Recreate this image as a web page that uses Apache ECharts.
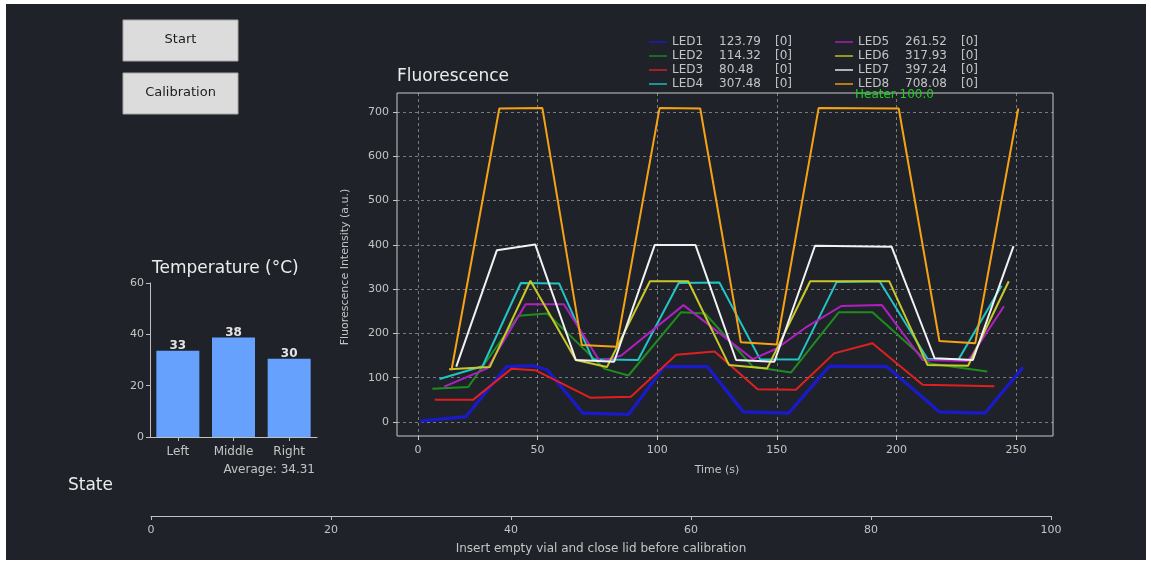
<!DOCTYPE html>
<html><head><meta charset="utf-8">
<script src="https://cdn.jsdelivr.net/npm/echarts@6/dist/echarts.min.js"></script>
<style>html,body{margin:0;padding:0;background:#fff}#c{width:1151px;height:565px}</style>
</head><body><div id="c"></div>
<script>
// ---------- data ----------
const ledNames = ['LED1','LED2','LED3','LED4','LED5','LED6','LED7','LED8'];
const ledColors = ['#1a1acc','#1e8c1e','#e02020','#22c4c4','#b020c0','#c8c828','#f2f2f2','#f5a214'];
const led1T = [1,20,37,48,54,69,88,103,121,136,155,172,196,218,237,253];
const led1V = [2,12,125,127,118,20,17,125,125,23,20,126,125,23,20,123.79];
const led2T = [6,21,42,54,78,88,110,120,140,156,176,190,214,238];
const led2V = [75,79,240,245,120,105,248,245,125,112,248,248,132,114.32];
const led3T = [7,23,39,49,72,89,108,124,142,158,174,190,211,241];
const led3V = [50,50,120,117,55,57,152,159,74,73,155,178,84,80.48];
const led4T = [9,27,43,59,73,92,109,126,143,159,175,193,213,226,244];
const led4V = [97,126,314,313,142,140,314,315,142,141,316,318,143,141,307.48];
const led5T = [11,29,45,61,76,85,111,140,150,162,177,194,211,230,245];
const led5V = [80,121,266,266,137,150,264,142,166,213,262,264,140,138,261.52];
const led6T = [13,30,47,66,79,97,113,130,146,164,197,213,230,247];
const led6V = [119,124,319,140,124,318,318,129,121,318,318,129,127,317.93];
const led7T = [16,33,49,66,82,99,116,133,149,166,198,216,232,249];
const led7V = [125,388,401,140,136,400,400,140,136,398,396,144,140,397.24];
const led8T = [14,34,52,68.5,83,101,118,135,150,167.5,201,218,233,251];
const led8V = [117,708,709,174,170,709,708,180,175,709,708,183,178,708.08];
const heaterValue = 100.0;
const tempCategories = ['Left','Middle','Right'];
const tempValues = [33.6,38.8,30.53];
const progressValue = 0;
const timeTicks = [0,250,50];      // min, max, step
const fluoTicks = [0,700,100];
const tempTicks = [0,60,20];
const progressTicks = [0,100,20];

// ---------- build ----------
const allT = [led1T,led2T,led3T,led4T,led5T,led6T,led7T,led8T];
const allV = [led1V,led2V,led3V,led4V,led5V,led6V,led7V,led8V];
const lastVal = {};
ledNames.forEach((n,i)=>{ lastVal[n] = allV[i][allV[i].length-1]; });
const avg = tempValues.reduce((a,b)=>a+b,0)/tempValues.length;

const FONT = '"DejaVu Sans", sans-serif';
const TXT = '#c4c4c4';
const ledSeries = ledNames.map((n,i)=>({
  name:n, type:'line', xAxisIndex:0, yAxisIndex:0, symbol:'none', showSymbol:false, animation:false,
  data: allT[i].map((t,k)=>[t, allV[i][k]]),
  lineStyle:{color:ledColors[i], width: i===0?3.2:2},
  itemStyle:{color:ledColors[i]}, z: 2+i
}));

const legendRich = {
  n:{width:47, color:TXT, fontSize:12, fontFamily:FONT},
  v:{width:56, color:TXT, fontSize:12, fontFamily:FONT},
  b:{width:20, color:TXT, fontSize:12, fontFamily:FONT}
};
const legendFmt = n => `{n|${n}}{v|${lastVal[n].toFixed(2)}}{b|[0]}`;
const lineIcon = 'path://M0,0 M18,12 M0,5.3 L18,5.3 L18,6.7 L0,6.7 Z';
function mkLegend(names, left){
  return {data:names.map(n=>({name:n, icon:lineIcon})), left:left, top:31, orient:'vertical', itemGap:2, itemWidth:18, itemHeight:12,
    formatter:legendFmt, textStyle:{rich:legendRich, color:TXT}, selectedMode:false};
}

const splitDash = {show:true, lineStyle:{color:'rgba(255,255,255,0.4)', type:[3,3], width:1}};
const axisLbl = {color:TXT, fontSize:11, fontFamily:FONT};

const chart = echarts.init(document.getElementById('c'), null, {renderer:'canvas'});
chart.setOption({
  backgroundColor:'#ffffff',
  animation:false,
  graphic:[
    {type:'rect', z:-100, shape:{x:6,y:4,width:1140,height:556}, style:{fill:'#1f2329'}},
    {type:'rect', z:10, shape:{x:123,y:20,width:115,height:41}, style:{fill:'#dcdcdc', stroke:'#a8a8a8', lineWidth:1}},
    {type:'text', z:11, style:{x:180.5,y:40,text:'Start',font:'13px '+FONT,fill:'#1c1c1c',align:'center',verticalAlign:'middle'}},
    {type:'rect', z:10, shape:{x:123,y:73,width:115,height:41}, style:{fill:'#dcdcdc', stroke:'#a8a8a8', lineWidth:1}},
    {type:'text', z:11, style:{x:180.5,y:93,text:'Calibration',font:'13px '+FONT,fill:'#1c1c1c',align:'center',verticalAlign:'middle'}},
    {type:'text', z:11, style:{x:397,y:77,text:'Fluorescence',font:'17px '+FONT,fill:'#ececec',align:'left',verticalAlign:'middle'}},
    {type:'text', z:11, style:{x:152,y:269,text:'Temperature (°C)',font:'17px '+FONT,fill:'#ececec',align:'left',verticalAlign:'middle'}},
    {type:'text', z:11, style:{x:68,y:486,text:'State',font:'17px '+FONT,fill:'#ececec',align:'left',verticalAlign:'middle'}},
    {type:'text', z:11, style:{x:315,y:470,text:'Average: '+avg.toFixed(2),font:'12px '+FONT,fill:TXT,align:'right',verticalAlign:'middle'}},
    {type:'text', z:11, style:{x:855,y:95,text:'Heater '+heaterValue.toFixed(1),font:'12px '+FONT,fill:'#22cc22',align:'left',verticalAlign:'middle'}}
  ],
  legend:[ mkLegend(ledNames.slice(0,4), 644), mkLegend(ledNames.slice(4), 830) ],
  grid:[
    {left:397, top:93, width:656, height:343, show:true, borderColor:'#c8c8c8', borderWidth:1, backgroundColor:'transparent'},
    {left:418, top:93, width:598, height:343},
    {left:397, top:112, width:656, height:310},
    {left:150, top:283, width:167, height:154},
    {left:151, top:496, width:900, height:20}
  ],
  xAxis:[
    {gridIndex:0, type:'value', min:-8.78, max:265.5, show:false},
    {gridIndex:1, type:'value', min:timeTicks[0], max:timeTicks[1], interval:timeTicks[2],
      axisLine:{show:false}, axisTick:{show:true, length:4, lineStyle:{color:'#c8c8c8'}},
      axisLabel:Object.assign({margin:9}, axisLbl), splitLine:splitDash,
      name:'Time (s)', nameLocation:'middle', nameGap:29, nameTextStyle:{color:TXT, fontSize:11, fontFamily:FONT}},
    {gridIndex:2, type:'value', min:0, max:1, show:false},
    {gridIndex:3, type:'category', data:tempCategories,
      axisLine:{show:true, lineStyle:{color:'#c0c0c0'}}, axisTick:{show:true, alignWithLabel:true, length:4, lineStyle:{color:'#c0c0c0'}},
      axisLabel:Object.assign({margin:9}, axisLbl, {fontSize:12})},
    {gridIndex:4, type:'value', min:progressTicks[0], max:progressTicks[1], interval:progressTicks[2],
      axisLine:{show:true, lineStyle:{color:'#c0c0c0'}}, axisTick:{show:true, length:4, lineStyle:{color:'#c0c0c0'}},
      axisLabel:Object.assign({margin:9}, axisLbl), splitLine:{show:false},
      name:'Insert empty vial and close lid before calibration', nameLocation:'middle', nameGap:27,
      nameTextStyle:{color:TXT, fontSize:12, fontFamily:FONT}}
  ],
  yAxis:[
    {gridIndex:0, type:'value', min:-31.6, max:743, show:false},
    {gridIndex:1, type:'value', min:0, max:1, show:false},
    {gridIndex:2, type:'value', min:fluoTicks[0], max:fluoTicks[1], interval:fluoTicks[2],
      axisLine:{show:false}, axisTick:{show:true, length:4, lineStyle:{color:'#c8c8c8'}},
      axisLabel:Object.assign({margin:8}, axisLbl), splitLine:splitDash,
      name:'Fluorescence Intensity (a.u.)', nameLocation:'middle', nameGap:46, nameRotate:90,
      nameTextStyle:{color:TXT, fontSize:11, fontFamily:FONT}},
    {gridIndex:3, type:'value', min:tempTicks[0], max:tempTicks[1], interval:tempTicks[2],
      axisLine:{show:true, lineStyle:{color:'#c0c0c0'}}, axisTick:{show:true, length:4, lineStyle:{color:'#c0c0c0'}},
      axisLabel:Object.assign({margin:6}, axisLbl), splitLine:{show:false}},
    {gridIndex:4, type:'category', data:[''], show:false}
  ],
  series: ledSeries.concat([
    {name:'Temperature', type:'bar', xAxisIndex:3, yAxisIndex:3, data:tempValues, barWidth:43,
      itemStyle:{color:'#65a1fd'},
      label:{show:true, position:'top', distance:-1, formatter:p=>Math.floor(p.value), color:'#e4e4e4', fontWeight:'bold', fontSize:12, fontFamily:FONT}},
    {name:'Progress', type:'bar', xAxisIndex:4, yAxisIndex:4, data:[progressValue], barWidth:14, itemStyle:{color:'#65a1fd'}}
  ])
});
</script></body></html>
